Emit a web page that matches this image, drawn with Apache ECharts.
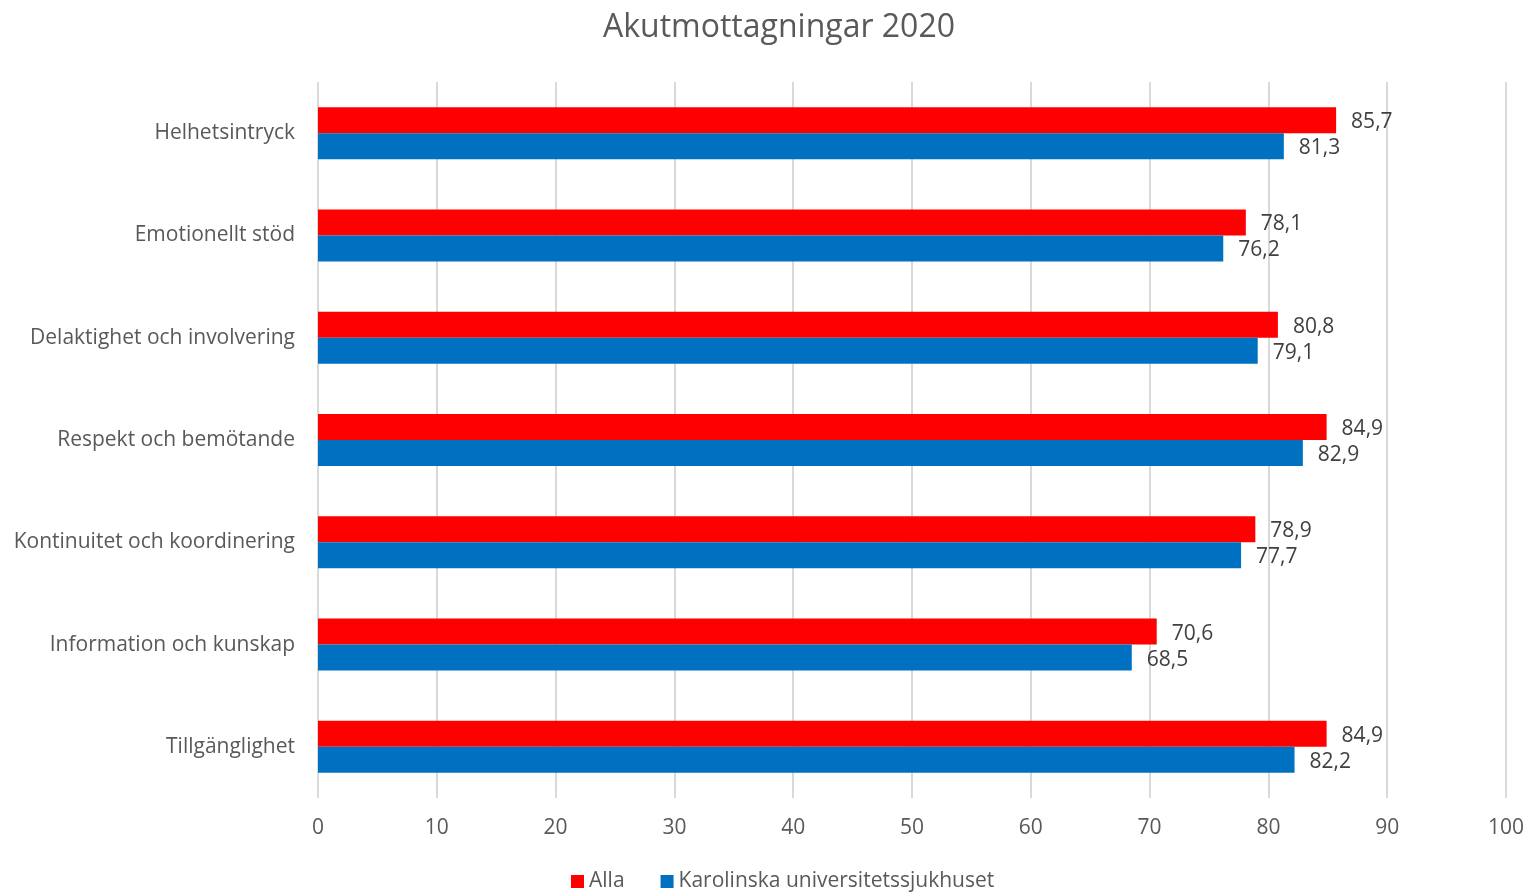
<!DOCTYPE html>
<html>
<head>
<meta charset="utf-8">
<title>Akutmottagningar 2020</title>
<script src="https://cdn.jsdelivr.net/npm/echarts@6/dist/echarts.min.js"></script>
<style>
  html, body { margin: 0; padding: 0; background: #fff; }
  #chart { width: 1528px; height: 893px; }
</style>
</head>
<body>
<div id="chart"></div>
<script>
// categories, top to bottom as in the picture
var categories = ['Helhetsintryck', 'Emotionellt stöd', 'Delaktighet och involvering', 'Respekt och bemötande', 'Kontinuitet och koordinering', 'Information och kunskap', 'Tillgänglighet'];
var alla = [85.7, 78.1, 80.8, 84.9, 78.9, 70.6, 84.9];
var karolinska = [81.3, 76.2, 79.1, 82.9, 77.7, 68.5, 82.2];
var xTicks = [0, 10, 20, 30, 40, 50, 60, 70, 80, 90, 100];

var font = '"Open Sans", "Noto Sans", sans-serif';
var chart = echarts.init(document.getElementById('chart'));

function comma(p) {
  return String(p.value.toFixed(1)).replace('.', ',');
}

chart.setOption({
  animation: false,
  textStyle: { fontFamily: font },
  title: {
    text: 'Akutmottagningar 2020',
    left: 598,
    top: 7,
    textStyle: { color: '#595959', fontSize: 32, fontWeight: 'normal', fontFamily: font }
  },
  legend: {
    bottom: -4,
    left: 566,
    itemWidth: 13,
    itemHeight: 13,
    itemGap: 36,
    icon: 'rect',
    textStyle: { color: '#595959', fontSize: 21, fontFamily: font },
    data: ['Alla', 'Karolinska universitetssjukhuset']
  },
  grid: { left: 318, right: 22, top: 82, bottom: 95, containLabel: false },
  xAxis: {
    type: 'value',
    min: xTicks[0],
    max: xTicks[xTicks.length - 1],
    interval: 10,
    axisLine: { show: false },
    axisTick: { show: false },
    axisLabel: { color: '#595959', fontSize: 21, margin: 20, fontFamily: font },
    splitLine: { lineStyle: { color: '#d9d9d9', width: 2 } }
  },
  yAxis: {
    type: 'category',
    inverse: true,
    data: categories,
    axisLine: { show: false },
    axisTick: { show: false },
    axisLabel: { color: '#595959', fontSize: 21, margin: 23, fontFamily: font }
  },
  series: [
    {
      name: 'Alla',
      type: 'bar',
      data: alla,
      barWidth: 26,
      barGap: '0%',
      itemStyle: { color: '#ff0000' },
      label: { show: true, position: 'right', distance: 15, offset: [0, 2], color: '#404040', fontSize: 21, fontFamily: font, formatter: comma }
    },
    {
      name: 'Karolinska universitetssjukhuset',
      type: 'bar',
      data: karolinska,
      barWidth: 26,
      barGap: '0%',
      itemStyle: { color: '#0070c0' },
      label: { show: true, position: 'right', distance: 15, offset: [0, 2], color: '#404040', fontSize: 21, fontFamily: font, formatter: comma }
    }
  ]
});
</script>
</body>
</html>
